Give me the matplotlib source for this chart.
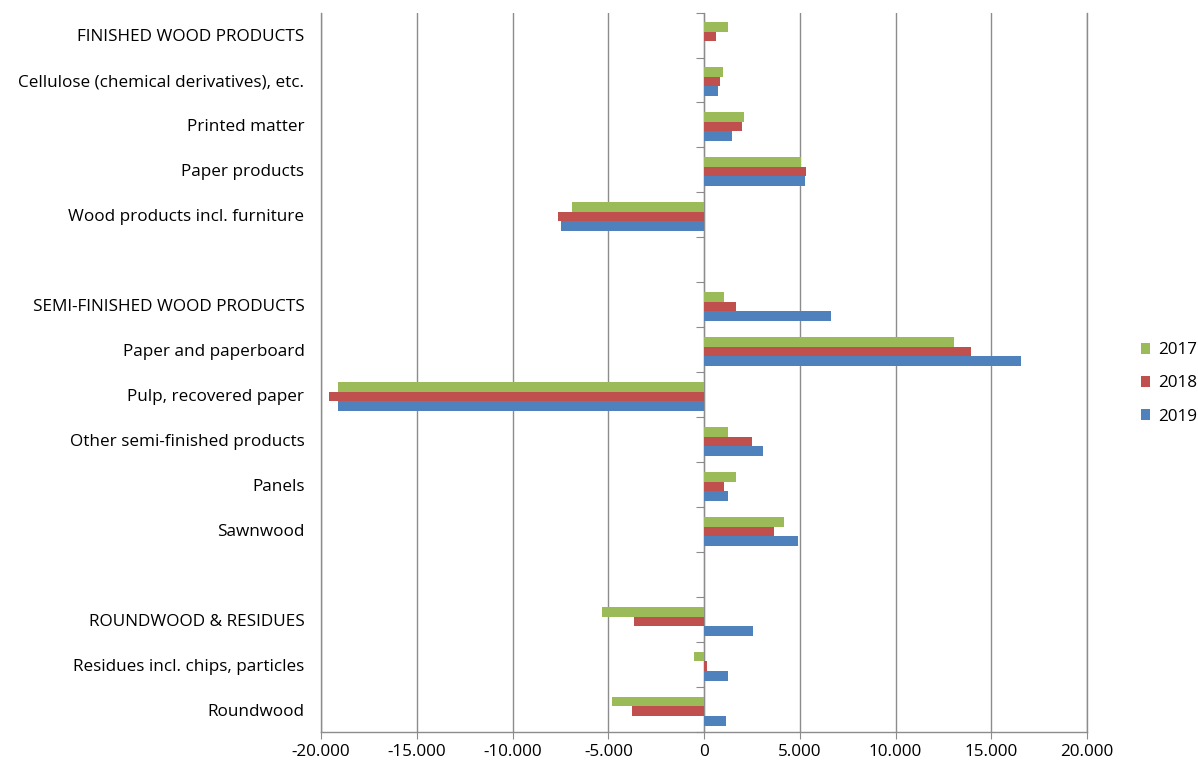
import numpy as np
import matplotlib
matplotlib.use("Agg")
import matplotlib.pyplot as plt
from matplotlib.ticker import FuncFormatter

plt.rcParams['font.family'] = ['Open Sans', 'DejaVu Sans']

# categories top to bottom, "" = spacer row between the groups
categories = [
    "FINISHED WOOD PRODUCTS",
    "Cellulose (chemical derivatives), etc.",
    "Printed matter",
    "Paper products",
    "Wood products incl. furniture",
    "",
    "SEMI-FINISHED WOOD PRODUCTS",
    "Paper and paperboard",
    "Pulp, recovered paper",
    "Other semi-finished products",
    "Panels",
    "Sawnwood",
    "",
    "ROUNDWOOD & RESIDUES",
    "Residues incl. chips, particles",
    "Roundwood",
]

nan = np.nan
v2017 = [1250, 1000, 2090, 5080, -6890, nan, 1060, 13060, -19130, 1250, 1660, 4180, nan, -5330, -540, -4820]
v2018 = [610, 850, 1980, 5340, -7620, nan, 1660, 13960, -19580, 2500, 1060, 3660, nan, -3660, 170, -3780]
v2019 = [0, 730, 1460, 5280, -7470, nan, 6630, 16570, -19130, 3080, 1250, 4890, nan, 2540, 1250, 1150]

years = ["2017", "2018", "2019"]
colors = ["#9BBB59", "#C0504D", "#4F81BD"]
grey = '#8c8c8c'
fs = 12.3

fig = plt.figure(figsize=(11.98, 7.67), dpi=100)
ax = fig.add_axes([0.268, 0.045, 0.6394, 0.9387])

y = np.arange(len(categories))
h = 0.215
for i, (vals, c, lab) in enumerate(zip([v2017, v2018, v2019], colors, years)):
    ax.barh(y + (i - 1) * h + 0.03, vals, height=h, color=c, label=lab, edgecolor='none', zorder=3)

ax.set_xlim(-20000, 20000)
ax.set_ylim(len(categories) - 0.5, -0.5)
ax.set_xticks(np.arange(-20000, 20001, 5000))
ax.xaxis.set_major_formatter(FuncFormatter(lambda v, p: f"{int(v):,}".replace(",", ".")))
ax.grid(axis='x', color=grey, linewidth=1, zorder=0)
ax.tick_params(axis='x', length=5, color=grey, labelsize=fs, pad=3, labelcolor='#000000')

ax.set_yticks(y)
ax.set_yticklabels(categories)
ax.tick_params(axis='y', length=0, pad=12, labelsize=fs)

ax.spines['top'].set_visible(False)
for s in ['bottom', 'left', 'right']:
    ax.spines[s].set_color(grey)
    ax.spines[s].set_linewidth(1)

# category axis crossing at zero, ticks at group boundaries
sec = ax.secondary_yaxis(0.5)
sec.set_yticks(np.arange(-0.5, len(categories), 1.0))
sec.set_yticklabels([])
sec.spines['left'].set_color(grey)
sec.spines['left'].set_linewidth(1)
sec.tick_params(axis='y', length=6, color=grey, direction='in')

handles, labels = ax.get_legend_handles_labels()
fig.legend(handles, labels, loc='center left', bbox_to_anchor=(0.9525, 0.5),
           frameon=False, fontsize=fs, handlelength=0.55, handleheight=0.55,
           handletextpad=0.45, labelspacing=1.0, borderpad=0, borderaxespad=0)

fig.savefig("out.png", dpi=100)
